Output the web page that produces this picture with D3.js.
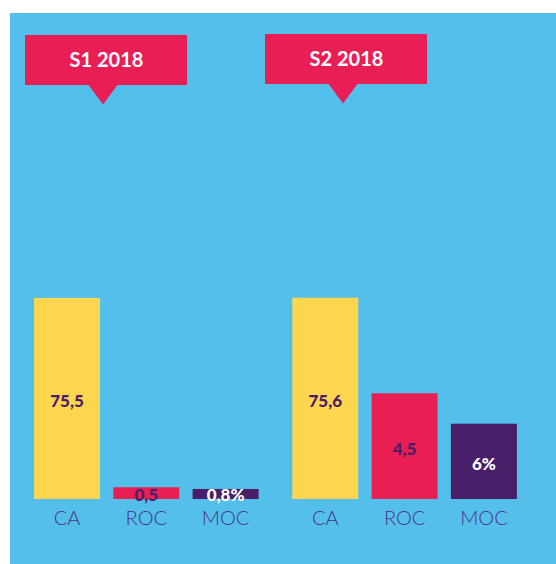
<!DOCTYPE html>
<html>
<head>
<meta charset="utf-8">
<script src="https://cdn.jsdelivr.net/npm/d3@7"></script>
<style>
  html, body { margin: 0; padding: 0; background: #ffffff; }
  svg { display: block; }
</style>
</head>
<body>
<svg id="chart" width="556" height="564"></svg>
<script>
// ---- data ----
const periods = ["S1 2018", "S2 2018"];
const metrics = ["CA", "ROC", "MOC"];
const caValues = [75.5, 75.6];
const rocValues = [0.5, 4.5];
const mocValues = [0.8, 6];
const valueSuffix = ["", "", "%"];

// ---- styles ----
const colors = { CA: "#fed54e", ROC: "#e91e52", MOC: "#4a1f69" };
const labelColors = { CA: "#4a1f69", ROC: "#4a1f69", MOC: "#ffffff" };
const blue = "#54bfeb";
const red = "#e91e55";
const axisColor = "#4b3485";

const svg = d3.select("#chart");
const W = 556, H = 564;
const baseline = 499;

// background panel
svg.append("rect").attr("x", 10).attr("y", 13).attr("width", W - 10).attr("height", H - 13).attr("fill", blue);

// scales
const x0 = d3.scaleBand().domain(periods).range([34, 34 + 2 * 258.3]).paddingInner(0).paddingOuter(0);
const x1 = d3.scaleBand().domain(metrics).range([0, 224.6]).paddingInner(0.168).paddingOuter(0);

const seriesValues = { CA: caValues, ROC: rocValues, MOC: mocValues };
const maxHeights = { CA: 201.3, ROC: 105.7, MOC: 75.3 };
const hScale = {};
metrics.forEach(m => {
  hScale[m] = d3.scaleLinear().domain([0, d3.max(seriesValues[m])]).range([0, maxHeights[m]]);
});

const rows = [];
periods.forEach((p, i) => {
  metrics.forEach((m, j) => {
    rows.push({ period: p, metric: m, value: seriesValues[m][i], suffix: valueSuffix[j] });
  });
});

const fmt = v => d3.format(",.1~f")(v).replace(".", ",");

// bars
const g = svg.append("g");
g.selectAll("rect.bar").data(rows).join("rect")
  .attr("class", "bar")
  .attr("x", d => x0(d.period) + x1(d.metric))
  .attr("width", x1.bandwidth())
  .attr("y", d => baseline - hScale[d.metric](d.value))
  .attr("height", d => hScale[d.metric](d.value))
  .attr("fill", d => colors[d.metric]);

// value labels
g.selectAll("text.val").data(rows).join("text")
  .attr("class", "val")
  .attr("x", d => x0(d.period) + x1(d.metric) + x1.bandwidth() / 2)
  .attr("y", d => Math.min(baseline - hScale[d.metric](d.value) / 2 + 2, 494))
  .attr("text-anchor", "middle")
  .attr("dominant-baseline", "central")
  .attr("font-family", "Lato, 'Open Sans', sans-serif")
  .attr("font-weight", 900)
  .attr("font-size", 17)
  .attr("fill", d => labelColors[d.metric])
  .text(d => fmt(d.value) + d.suffix);

// category axis labels
periods.forEach(p => {
  const axis = d3.axisBottom(x1).tickSize(0).tickPadding(0);
  const ag = svg.append("g").attr("transform", `translate(${x0(p)},${baseline + 26})`).call(axis);
  ag.select(".domain").remove();
  ag.selectAll("text")
    .attr("dy", 0)
    .attr("font-family", "Lato, 'Open Sans', sans-serif")
    .attr("font-weight", 300)
    .attr("font-size", 20)
    .attr("fill", axisColor);
});

// period header callouts
const headers = [
  { label: periods[0], x: 25, y: 35, w: 162, h: 50, tip: 103 },
  { label: periods[1], x: 265, y: 34, w: 162, h: 50, tip: 343 }
];
headers.forEach(hd => {
  const tw = 14.5, th = 19.5;
  const path = d3.path();
  path.moveTo(hd.x, hd.y);
  path.lineTo(hd.x + hd.w, hd.y);
  path.lineTo(hd.x + hd.w, hd.y + hd.h);
  path.lineTo(hd.tip + tw, hd.y + hd.h);
  path.lineTo(hd.tip, hd.y + hd.h + th);
  path.lineTo(hd.tip - tw, hd.y + hd.h);
  path.lineTo(hd.x, hd.y + hd.h);
  path.closePath();
  svg.append("path").attr("d", path.toString()).attr("fill", red);
  svg.append("text")
    .attr("x", hd.x + hd.w / 2 + 0.5)
    .attr("y", hd.y + hd.h / 2 - 1)
    .attr("text-anchor", "middle")
    .attr("dominant-baseline", "central")
    .attr("font-family", "Lato, 'Open Sans', sans-serif")
    .attr("font-weight", 700)
    .attr("font-size", 20)
    .attr("fill", "#ffffff")
    .text(hd.label);
});
</script>
</body>
</html>
